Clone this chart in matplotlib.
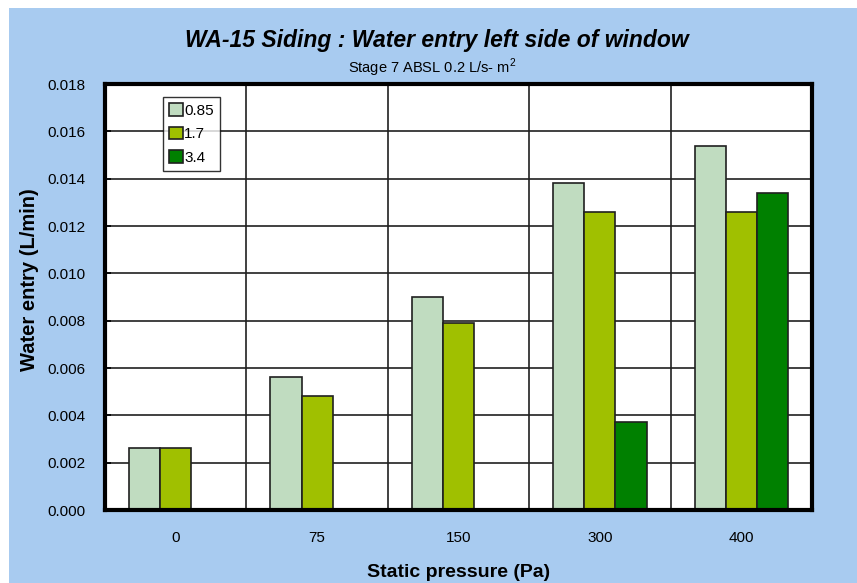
import numpy as np
import matplotlib
matplotlib.use('Agg')
import matplotlib.pyplot as plt
from matplotlib.patches import Rectangle

plt.rcParams['font.family'] = ['Liberation Sans', 'DejaVu Sans']

pressures = ['0', '75', '150', '300', '400']
s085 = [0.0026, 0.0056, 0.0090, 0.0138, 0.0154]
s17 = [0.0026, 0.0048, 0.0079, 0.0126, 0.0126]
s34 = [np.nan, np.nan, np.nan, 0.0037, 0.0134]
series = ['0.85', '1.7', '3.4']
colors = ['#c0dcc0', '#a0c000', '#008000']

W, H = 857, 583
fig = plt.figure(figsize=(W/100, H/100), dpi=100)
fig.patch.set_facecolor('white')
# blue panel (white strip on top and left like the source)
fig.patches.append(Rectangle((9/W, 0), 1, 1 - 8/H, transform=fig.transFigure,
                             facecolor='#a8cbf0', edgecolor='none', zorder=0))

ax = fig.add_axes([105/W, 1 - 510/H, (812-105)/W, (510-84)/H])
ax.set_zorder(2)
ax.set_facecolor('white')

x = np.arange(len(pressures))
bw = 0.22
for i, (vals, c, lab) in enumerate(zip([s085, s17, s34], colors, series)):
    ax.bar(x - 0.5 + 0.17 + bw*i + bw/2, vals, bw, color=c, edgecolor='#202020',
           linewidth=1.2, label=lab, zorder=3)

ax.set_xlim(-0.5, len(pressures) - 0.5)
ax.set_ylim(0, 0.018)
ax.set_yticks(np.arange(0, 0.0181, 0.002))
ax.set_yticklabels(['%.3f' % v for v in np.arange(0, 0.0181, 0.002)], fontsize=11)
ax.set_xticks(x)
ax.set_xticklabels(pressures, fontsize=11)
ax.tick_params(axis='x', length=0, pad=15)
ax.tick_params(axis='y', length=4, width=1.2, direction='in', pad=14)

ax.grid(axis='y', color='#202020', linewidth=1.2, zorder=1)
for b in x[:-1] + 0.5:
    ax.axvline(b, color='#202020', linewidth=1.2, zorder=1)
for s in ax.spines.values():
    s.set_linewidth(3)
    s.set_zorder(5)

ax.set_xlabel('Static pressure (Pa)', fontsize=14, fontweight='bold', labelpad=14)
ax.set_ylabel('Water entry (L/min)', fontsize=14.5, fontweight='bold')
ax.yaxis.set_label_coords(-0.094, 0.54)

fig.text(437/W, 1 - 40/H, 'WA-15 Siding : Water entry left side of window',
         ha='center', va='center', fontsize=16.5, fontweight='bold', fontstyle='italic')
fig.text(432/W, 1 - 68/H, 'Stage 7 ABSL 0.2 L/s- m$^{\\mathregular{2}}$',
         ha='center', va='center', fontsize=10.5)

leg = ax.legend(loc='upper left', bbox_to_anchor=(0.082, 0.97), fontsize=11,
                frameon=True, fancybox=False, handlelength=0.9, handleheight=0.9,
                handletextpad=0.1, labelspacing=0.6, borderpad=0.4, borderaxespad=0)
leg.get_frame().set_edgecolor('black')
leg.get_frame().set_linewidth(1)
leg.set_zorder(6)

fig.savefig('out.png', dpi=100)
